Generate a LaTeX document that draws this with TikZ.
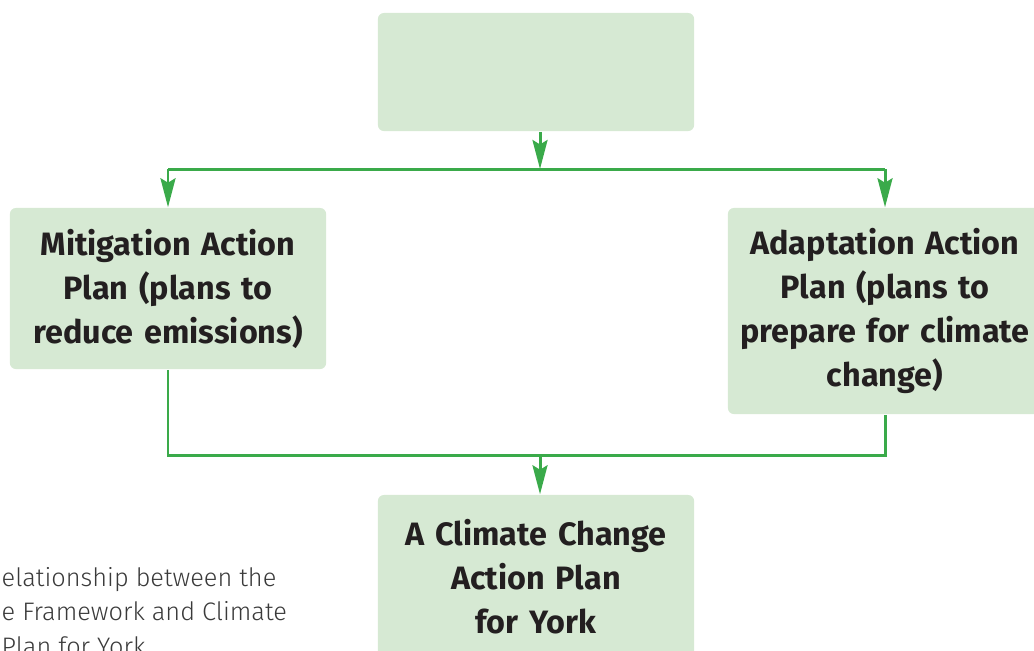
\documentclass[tikz,border=0pt]{standalone}
\usepackage{fontspec}
\setmainfont{Fira Sans}
\newfontfamily\lightfont{Fira Sans Light}
\usetikzlibrary{arrows.meta, positioning}
\definecolor{boxg}{HTML}{D6E9D3}
\definecolor{lineg}{HTML}{3AAA4A}
\definecolor{inkb}{HTML}{231F20}
\definecolor{capg}{HTML}{3A3A3A}

\begin{document}
\begin{tikzpicture}[x=0.01cm, y=-0.01cm,
        plan/.style={rectangle, rounded corners=0.06cm, fill=boxg, text=inkb,
            text width=2.96cm, inner xsep=0.1cm, align=center,
            font=\fontsize{9.2}{12.5}\selectfont\bfseries},
        link/.style={draw=lineg, line width=0.85pt},
        tip/.style={link, -{Stealth[length=2.9mm, width=1.5mm, inset=0.45mm]}}]
    \useasboundingbox (0,0) rectangle (1034,650);
    \clip (0,0) rectangle (1034,650);
    % boxes
    \node[plan, minimum height=1.18cm] (frame) at (536,72) {};
    \node[plan, minimum height=1.61cm] (mitig) at (168,288.5) {Mitigation Action\\ Plan (plans to\\ reduce emissions)};
    \node[plan, minimum height=2.06cm, text width=2.94cm] (adapt) at (885,311) {Adaptation Action\\ Plan (plans to\\ prepare for climate\\ change)};
    \node[plan, minimum height=1.64cm] (york) at (536,577) {A Climate Change\\ Action Plan\\ for York};
    \node[anchor=base west, align=left, inner sep=0, text=capg,
        font=\lightfont\fontsize{7.2}{9.7}\selectfont] (note) at (1,655) {elationship between the\\ e Framework and Climate\\ Plan for York};
    % connectors
    \coordinate (split) at (540,169);
    \coordinate (join) at (540,455);
    \draw[tip] (frame.south -| split) -- (split);
    \draw[link] (mitig.north |- split) -- (adapt.north |- split);
    \draw[tip] (mitig.north |- split) -- (mitig.north);
    \draw[tip] (adapt.north |- split) -- (adapt.north);
    \draw[link] (mitig.south) |- (join) -| (adapt.south);
    \draw[tip] (join) -- (join |- york.north);
\end{tikzpicture}
\end{document}
